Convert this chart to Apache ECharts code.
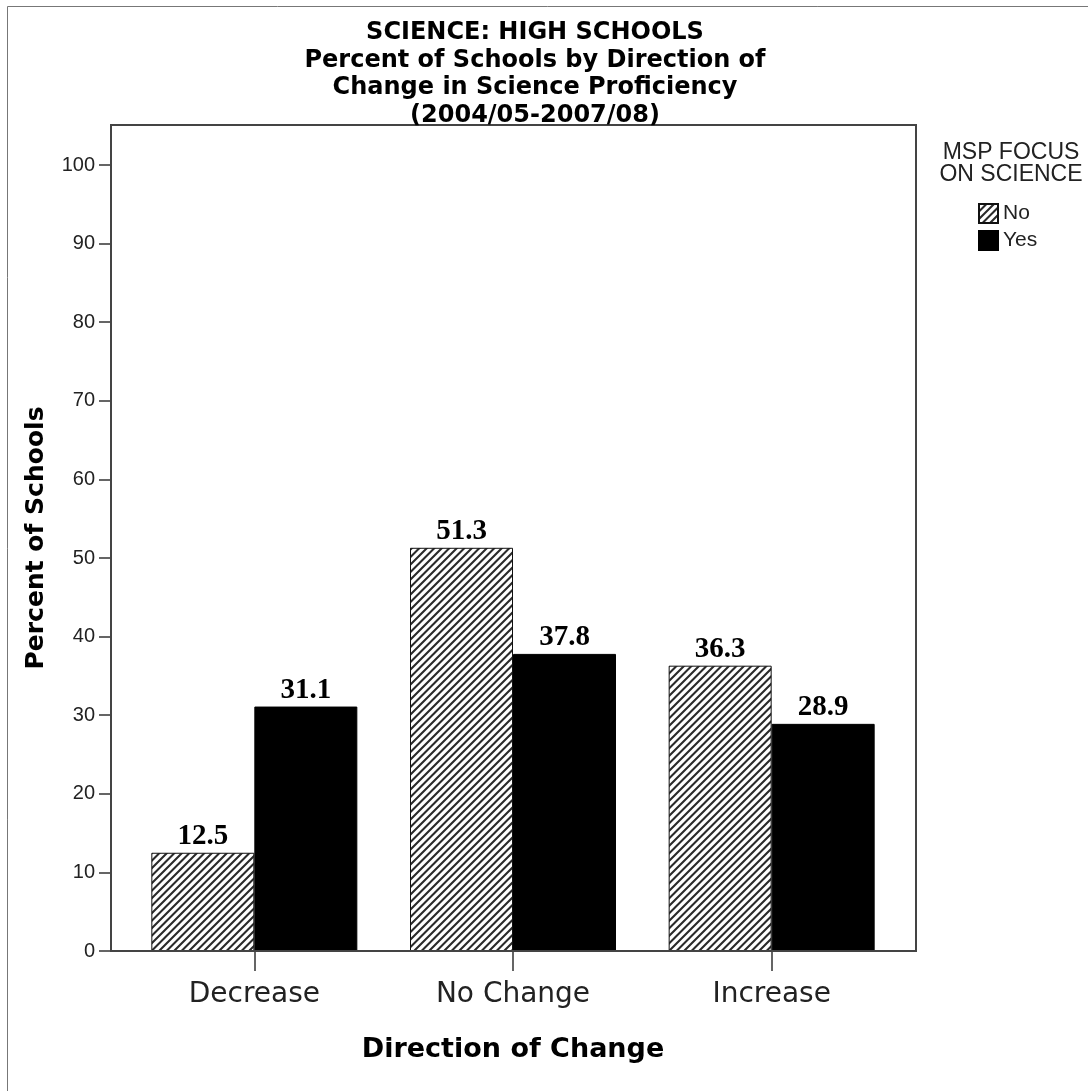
<!DOCTYPE html>
<html>
<head>
<meta charset="utf-8">
<script src="https://cdn.jsdelivr.net/npm/echarts@6/dist/echarts.min.js"></script>
<style>
  html, body { margin: 0; padding: 0; background: #fff; }
  #chart { width: 1088px; height: 1091px; }
</style>
</head>
<body>
<div id="chart"></div>
<script>
// Chart data
const categories = ['Decrease', 'No Change', 'Increase'];
const seriesNames = ['No', 'Yes'];
const valuesNo = [12.5, 51.3, 36.3];
const valuesYes = [31.1, 37.8, 28.9];
const yMin = 0;
const yMax = 100;
const yStep = 10;
const titleLines = [
  'SCIENCE: HIGH SCHOOLS',
  'Percent of Schools by Direction of',
  'Change in Science Proficiency',
  '(2004/05-2007/08)'
];
const legendTitleLines = ['MSP FOCUS', 'ON SCIENCE'];
const yAxisTitle = 'Percent of Schools';
const xAxisTitle = 'Direction of Change';

// Diagonal "////" hatch tile for the first series
function makeHatch() {
  const size = 15;
  const step = 7.5;
  const c = document.createElement('canvas');
  c.width = size;
  c.height = size;
  const ctx = c.getContext('2d');
  ctx.fillStyle = '#ffffff';
  ctx.fillRect(0, 0, size, size);
  ctx.strokeStyle = '#2a2a2a';
  ctx.lineWidth = 2.1;
  ctx.beginPath();
  for (let k = 0; k <= 4; k++) {
    const d = k * step;
    ctx.moveTo(d + 2, -2);
    ctx.lineTo(d - size - 2, size + 2);
  }
  ctx.stroke();
  return c;
}
const hatch = { image: makeHatch(), repeat: 'repeat' };

const chart = echarts.init(document.getElementById('chart'), null, { renderer: 'canvas' });

const valueLabel = {
  show: true,
  position: 'top',
  distance: 2,
  fontFamily: 'Liberation Serif',
  fontWeight: 'bold',
  fontSize: 29,
  color: '#000'
};

chart.setOption({
  animation: false,
  backgroundColor: '#fff',
  grid: { left: 125, right: 187, top: 165, bottom: 140 },
  legend: {
    data: seriesNames,
    orient: 'vertical',
    left: 978,
    top: 203,
    padding: 0,
    icon: 'rect',
    itemWidth: 19,
    itemHeight: 19,
    itemGap: 6,
    textStyle: { fontFamily: 'Liberation Sans', fontSize: 21, color: '#222' }
  },
  xAxis: {
    type: 'category',
    data: categories,
    axisLine: { show: false },
    axisTick: { show: true, alignWithLabel: true, length: 20, lineStyle: { color: '#333', width: 1.5 } },
    axisLabel: { margin: 30, fontFamily: 'DejaVu Sans', fontSize: 28, color: '#222' },
    splitLine: { show: false },
    name: xAxisTitle,
    nameLocation: 'middle',
    nameGap: 85,
    nameTextStyle: { fontFamily: 'DejaVu Sans', fontWeight: 'bold', fontSize: 27, color: '#000' }
  },
  yAxis: {
    type: 'value',
    min: yMin,
    max: yMax,
    interval: yStep,
    offset: 14,
    axisLine: { show: false },
    axisTick: { show: true, length: 12, lineStyle: { color: '#333', width: 1.5 } },
    axisLabel: { margin: 16, fontFamily: 'Liberation Sans', fontSize: 20, color: '#222' },
    splitLine: { show: false }
  },
  series: [
    {
      name: seriesNames[0],
      type: 'bar',
      data: valuesNo,
      barWidth: 103,
      barGap: '0%',
      itemStyle: { color: hatch, borderColor: '#111', borderWidth: 1 },
      label: valueLabel
    },
    {
      name: seriesNames[1],
      type: 'bar',
      data: valuesYes,
      barWidth: 103,
      barGap: '0%',
      itemStyle: { color: '#000', borderColor: '#000', borderWidth: 1 },
      label: valueLabel
    }
  ],
  graphic: [
    // outer border of the figure
    {
      type: 'polyline',
      z: 50,
      shape: { points: [[7.5, 1091], [7.5, 6.5], [1088, 6.5]] },
      style: { fill: 'none', stroke: '#777', lineWidth: 1 }
    },
    // plot frame
    {
      type: 'rect',
      z: 100,
      shape: { x: 111, y: 125, width: 805, height: 826 },
      style: { fill: 'none', stroke: '#444', lineWidth: 2 }
    },
    // chart title
    {
      type: 'text',
      z: 100,
      x: 535,
      y: 19.5,
      style: {
        text: titleLines.join('\n'),
        align: 'center',
        verticalAlign: 'top',
        textAlign: 'center',
        textVerticalAlign: 'top',
        lineHeight: 27.5,
        font: 'bold 24px "DejaVu Sans"',
        fill: '#000'
      }
    },
    // legend heading
    {
      type: 'text',
      z: 100,
      x: 1011,
      y: 142,
      style: {
        text: legendTitleLines.join('\n'),
        align: 'center',
        verticalAlign: 'top',
        textAlign: 'center',
        textVerticalAlign: 'top',
        lineHeight: 21.5,
        font: '23px "Liberation Sans"',
        fill: '#222'
      }
    },
    // y axis title
    {
      type: 'text',
      z: 100,
      x: 36,
      y: 538,
      rotation: Math.PI / 2,
      style: {
        text: yAxisTitle,
        align: 'center',
        verticalAlign: 'middle',
        textAlign: 'center',
        textVerticalAlign: 'middle',
        font: 'bold 25px "DejaVu Sans"',
        fill: '#000'
      }
    }
  ]
});
</script>
</body>
</html>
